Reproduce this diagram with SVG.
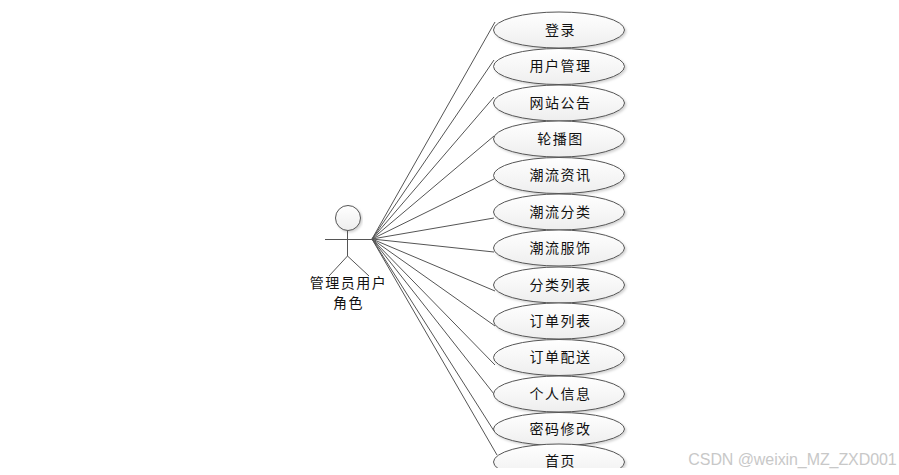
<svg xmlns="http://www.w3.org/2000/svg" width="899" height="475" viewBox="0 0 899 475">
<style>
text{font-family:"Noto Sans CJK SC","Liberation Sans",sans-serif;font-size:14px;fill:#111;text-anchor:middle}
.u{fill:url(#g);stroke:#555;stroke-width:1;filter:url(#sh)}
.c{fill:none;stroke:#555;stroke-width:1}
.k{letter-spacing:1.5px}
</style>
<defs>
<linearGradient id="g" x1="0" y1="0" x2="0" y2="1"><stop offset="0" stop-color="#fff"/><stop offset="1" stop-color="#eee"/></linearGradient>
<filter id="sh" x="-5%" y="-10%" width="112%" height="130%"><feDropShadow dx="1.500" dy="1.500" stdDeviation="1" flood-color="#000" flood-opacity=".18"/></filter>
<clipPath id="clip"><rect width="899" height="468"/></clipPath>
</defs>
<rect width="899" height="475" fill="#fff"/>
<g id="connectors" class="c" clip-path="url(#clip)">
<path d="M372 239L495 22M372 239L494 60M372 239L494 97M372 239L494 136M372 239L494 179M372 239L494 218M372 239L494 252M372 239L495 291M372 239L495 326M372 239L495 365M372 239L494 394M372 239L494 431M372 239L497 455"/>
</g>
<g clip-path="url(#clip)">
<g id="actor"><circle cx="348" cy="218" r="12.500" class="u"/><path class="c" d="M325 239.500H372M347.500 231V256M347.500 256L329 276M347.500 256L369 276"/><text x="348.500" y="288" class="k">管理员用户</text><text x="348.500" y="308" class="k">角色</text></g>
<g id="n1"><ellipse cx="559" cy="30" rx="65.500" ry="18" class="u"/><text x="560.500" y="35" class="k">登录</text></g>
<g id="n2"><ellipse cx="559" cy="66.500" rx="65.500" ry="18" class="u"/><text x="560.500" y="71" class="k">用户管理</text></g>
<g id="n3"><ellipse cx="559" cy="103" rx="65.500" ry="18" class="u"/><text x="560.500" y="108" class="k">网站公告</text></g>
<g id="n4"><ellipse cx="559" cy="139" rx="65.500" ry="18" class="u"/><text x="560.500" y="144" class="k">轮播图</text></g>
<g id="n5"><ellipse cx="559" cy="175.500" rx="65.500" ry="18" class="u"/><text x="560.500" y="180" class="k">潮流资讯</text></g>
<g id="n6"><ellipse cx="559" cy="212" rx="65.500" ry="18" class="u"/><text x="560.500" y="217" class="k">潮流分类</text></g>
<g id="n7"><ellipse cx="559" cy="248" rx="65.500" ry="18" class="u"/><text x="560.500" y="253" class="k">潮流服饰</text></g>
<g id="n8"><ellipse cx="559" cy="285" rx="65.500" ry="18" class="u"/><text x="560.500" y="290" class="k">分类列表</text></g>
<g id="n9"><ellipse cx="559" cy="321" rx="65.500" ry="18" class="u"/><text x="560.500" y="326" class="k">订单列表</text></g>
<g id="n10"><ellipse cx="559" cy="357.500" rx="65.500" ry="18" class="u"/><text x="560.500" y="362" class="k">订单配送</text></g>
<g id="n11"><ellipse cx="559" cy="394" rx="65.500" ry="18" class="u"/><text x="560.500" y="399" class="k">个人信息</text></g>
<g id="n12"><ellipse cx="559" cy="429" rx="65.500" ry="16.500" class="u"/><text x="560.500" y="434" class="k">密码修改</text></g>
<g id="n13"><ellipse cx="559" cy="462" rx="65.500" ry="18" class="u"/><text x="560.500" y="466" class="k">首页</text></g>
</g>
<text x="792.500" y="465" style="font-family:'Liberation Sans',sans-serif;font-size:16px;fill:#c8c8c8;letter-spacing:-.08px">CSDN @weixin_MZ_ZXD001</text>
</svg>
